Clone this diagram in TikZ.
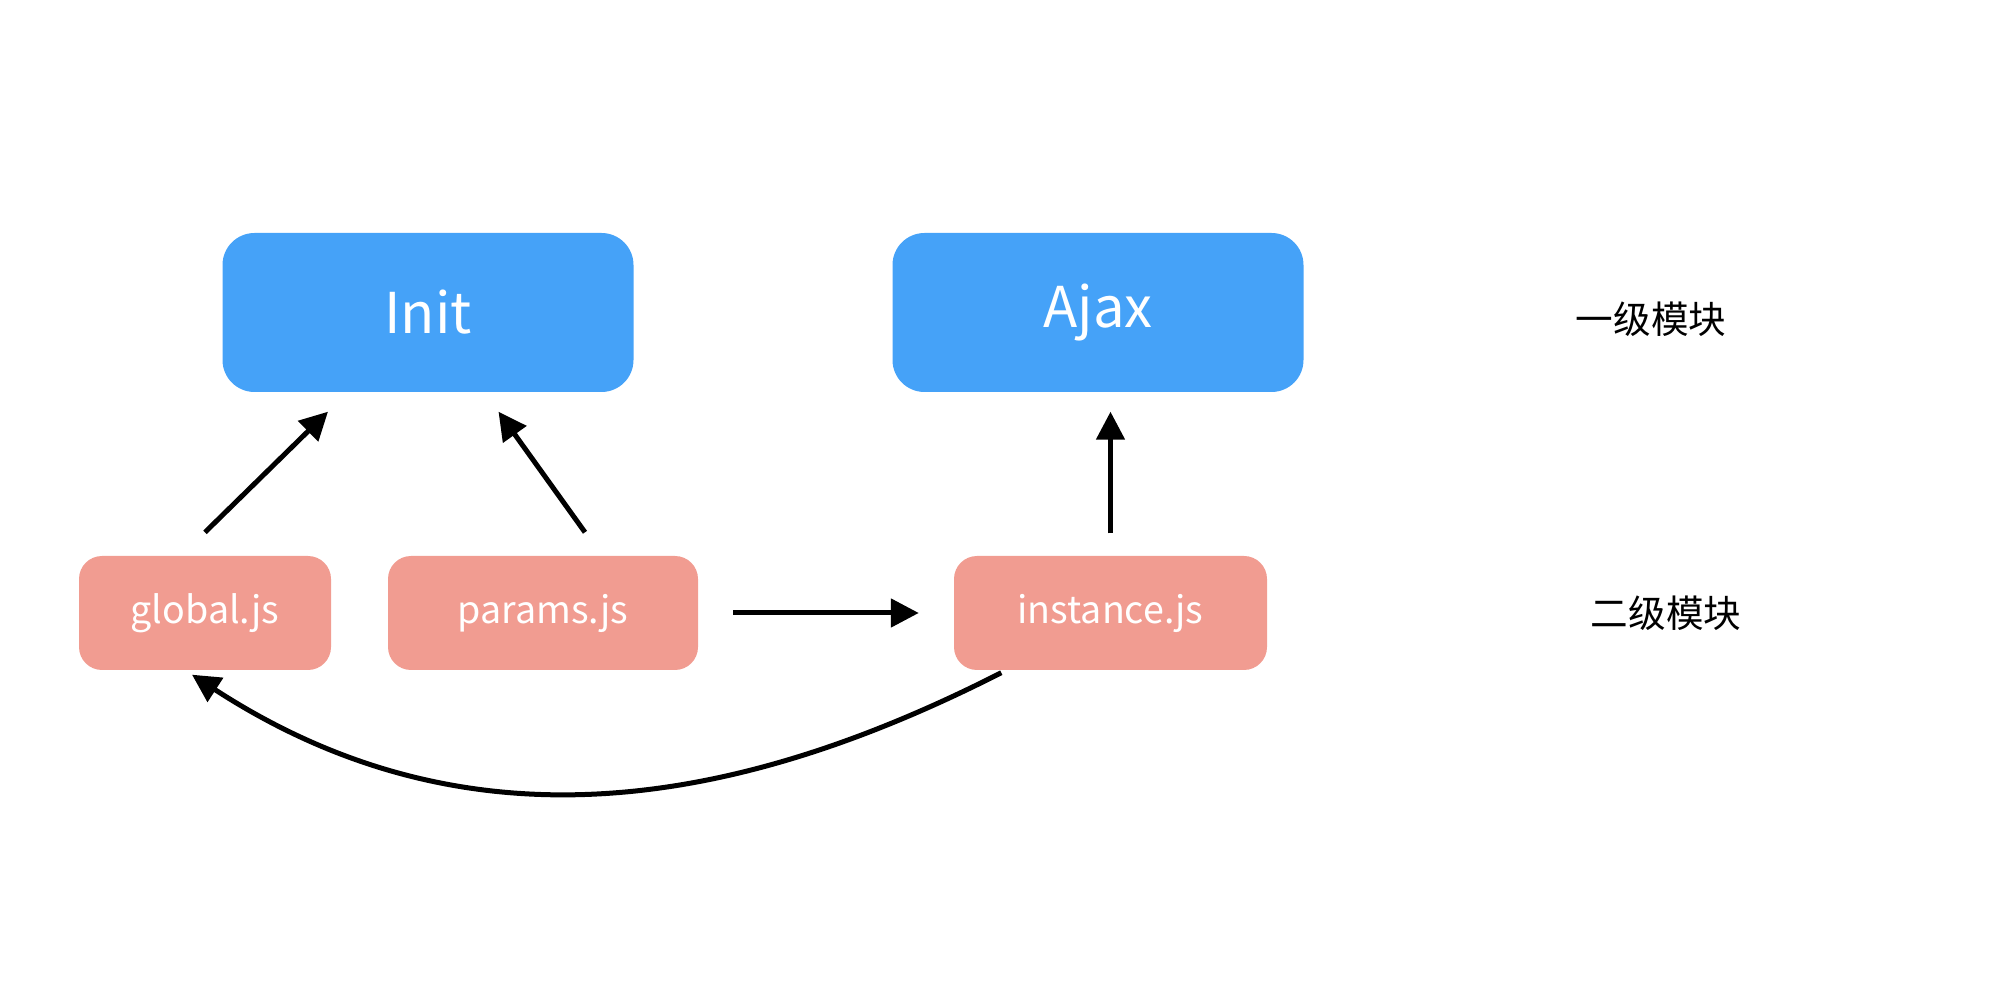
\documentclass[tikz,border=0pt]{standalone}
\usepackage{fontspec}
\setmainfont{Noto Sans CJK SC}
\usetikzlibrary{arrows.meta,calc}
\definecolor{topblue}{RGB}{69,162,248}
\definecolor{subred}{RGB}{241,156,145}

\begin{document}
\begin{tikzpicture}[
    bigbox/.style={fill=topblue,text=white,rounded corners=0.32cm,minimum width=4.11cm,minimum height=1.59cm,font=\fontsize{16}{20}\selectfont},
    smallbox/.style={fill=subred,text=white,rounded corners=0.23cm,minimum height=1.14cm,font=\fontsize{10.7}{13}\selectfont},
    levellabel/.style={font=\fontsize{10.7}{13}\selectfont},
    dep/.style={line width=0.05cm,-{Triangle[length=0.28cm,width=0.28cm]}}
  ]
    \pgfmathsetmacro{\topRow}{-3.125}
    \pgfmathsetmacro{\subRow}{-6.13}

    % Rahmen
    \useasboundingbox (0,0) rectangle (19.94,-9.82);

    % Erste Ebene
    \node[bigbox] (Init) at (4.28,\topRow) {Init};
    \node[bigbox] (Ajax) at (10.98,\topRow) {Ajax};

    % Zweite Ebene
    \node[smallbox,minimum width=2.52cm] (global) at (2.05,\subRow) {global.js};
    \node[smallbox,minimum width=3.10cm] (params) at (5.43,\subRow) {params.js};
    \node[smallbox,minimum width=3.13cm] (instance) at (11.105,\subRow) {instance.js};

    % Beschriftung
    \node[levellabel] (lvlOne) at (16.51,-3.19) {一级模块};
    \node[levellabel] (lvlTwo) at (16.66,\subRow) {二级模块};

    % Abhaengigkeiten
    \draw[dep] ($(global.north)+(0,0.23)$) -- ($(Init.south)+(-1.0,-0.19)$);
    \draw[dep] ($(params.north)+(0.42,0.23)$) -- ($(Init.south)+(0.705,-0.19)$);
    \draw[dep] ($(instance.north)+(0,0.22)$) -- ($(instance.north |- Ajax.south)+(0,-0.19)$);
    \draw[dep] ($(params.east)+(0.345,0)$) -- ($(instance.west)+(-0.345,0)$);
    \draw[dep] ($(instance.south west)+(0.48,-0.02)$) to[out=207,in=-33] ($(global.south)+(-0.13,-0.04)$);
  \end{tikzpicture}
\end{document}
